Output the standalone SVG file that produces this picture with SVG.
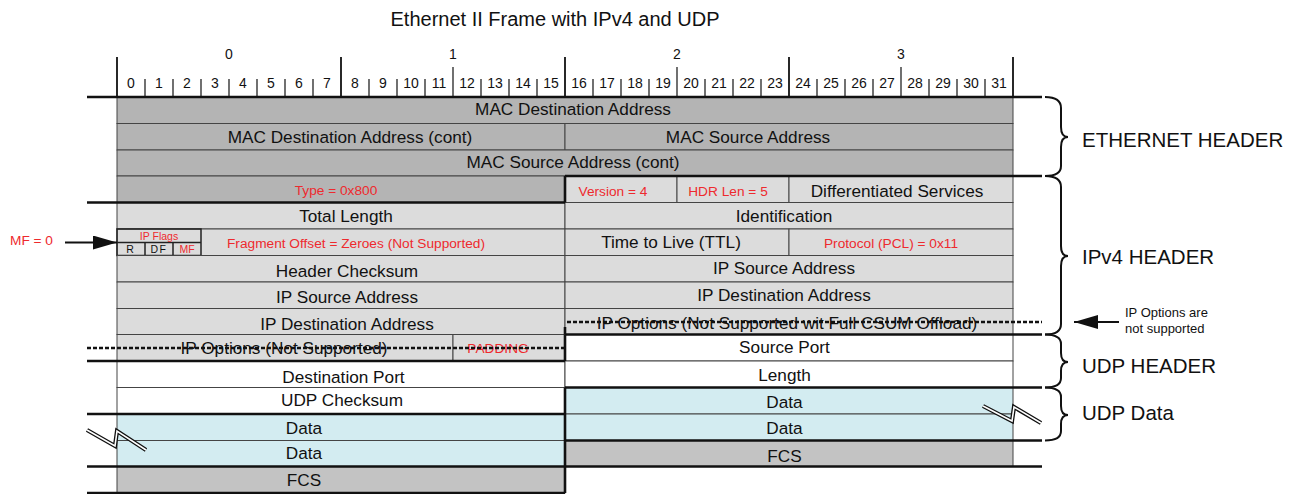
<svg xmlns="http://www.w3.org/2000/svg" width="1297" height="494" viewBox="0 0 1297 494">
<style>
text{font-family:"Liberation Sans",Arial,sans-serif;fill:#111}
.t{font-size:17.2px;text-anchor:middle}
.r{font-size:13.7px;text-anchor:middle;fill:#ee2a2e}
.s{font-size:10.5px;text-anchor:middle}
.bit{font-size:14px;text-anchor:middle}
.lbl{font-size:20.5px}
.eth{fill:#b4b4b4;stroke:#444;stroke-width:1}
.ip{fill:#dcdcdc;stroke:#444;stroke-width:1}
.wh{fill:#ffffff;stroke:#444;stroke-width:1}
.dt{fill:#d3ecf1;stroke:#444;stroke-width:1}
.fcs{fill:#c3c3c3;stroke:#444;stroke-width:1}
.thick{stroke:#111;stroke-width:2.6;fill:none}
.tick{stroke:#111;stroke-width:1.2}
.big{stroke:#111;stroke-width:1.8}
.dash{stroke:#111;stroke-width:2.3;stroke-dasharray:4 2;fill:none}
.brace{stroke:#111;stroke-width:2;fill:none}
.flag{fill:none;stroke:#222;stroke-width:1.5}
</style>
<defs>
<marker id="ah" viewBox="0 0 24 14" refX="24" refY="7" markerWidth="24" markerHeight="14" markerUnits="userSpaceOnUse" orient="auto">
<path d="M0,0 L24,7 L0,14 Z" fill="#111"/>
</marker>
</defs>

<text x="555" y="26" style="font-size:20px;text-anchor:middle">Ethernet II Frame with IPv4 and UDP</text>

<g id="ruler">
<line class="big" x1="117" y1="57" x2="117" y2="97"/>
<line class="big" x1="341" y1="57" x2="341" y2="97"/>
<line class="big" x1="565" y1="57" x2="565" y2="97"/>
<line class="big" x1="789" y1="57" x2="789" y2="97"/>
<line class="big" x1="1013" y1="57" x2="1013" y2="97"/>
<g class="tick">
<line x1="145" y1="79" x2="145" y2="96"/><line x1="173" y1="79" x2="173" y2="96"/><line x1="201" y1="79" x2="201" y2="96"/><line x1="229" y1="79" x2="229" y2="96"/><line x1="257" y1="79" x2="257" y2="96"/><line x1="285" y1="79" x2="285" y2="96"/><line x1="313" y1="79" x2="313" y2="96"/>
<line x1="369" y1="79" x2="369" y2="96"/><line x1="397" y1="79" x2="397" y2="96"/><line x1="425" y1="79" x2="425" y2="96"/><line x1="453" y1="67" x2="453" y2="96"/><line x1="481" y1="79" x2="481" y2="96"/><line x1="509" y1="79" x2="509" y2="96"/><line x1="537" y1="79" x2="537" y2="96"/>
<line x1="593" y1="79" x2="593" y2="96"/><line x1="621" y1="79" x2="621" y2="96"/><line x1="649" y1="79" x2="649" y2="96"/><line x1="677" y1="67" x2="677" y2="96"/><line x1="705" y1="79" x2="705" y2="96"/><line x1="733" y1="79" x2="733" y2="96"/><line x1="761" y1="79" x2="761" y2="96"/>
<line x1="817" y1="79" x2="817" y2="96"/><line x1="845" y1="79" x2="845" y2="96"/><line x1="873" y1="79" x2="873" y2="96"/><line x1="901" y1="67" x2="901" y2="96"/><line x1="929" y1="79" x2="929" y2="96"/><line x1="957" y1="79" x2="957" y2="96"/><line x1="985" y1="79" x2="985" y2="96"/>
</g>
<text class="bit" x="229" y="59">0</text><text class="bit" x="453" y="59">1</text><text class="bit" x="677" y="59">2</text><text class="bit" x="901" y="59">3</text>
<g class="bit">
<text class="bit" x="131" y="88">0</text><text class="bit" x="159" y="88">1</text><text class="bit" x="187" y="88">2</text><text class="bit" x="215" y="88">3</text><text class="bit" x="243" y="88">4</text><text class="bit" x="271" y="88">5</text><text class="bit" x="299" y="88">6</text><text class="bit" x="327" y="88">7</text>
<text class="bit" x="355" y="88">8</text><text class="bit" x="383" y="88">9</text><text class="bit" x="411" y="88">10</text><text class="bit" x="439" y="88">11</text><text class="bit" x="467" y="88">12</text><text class="bit" x="495" y="88">13</text><text class="bit" x="523" y="88">14</text><text class="bit" x="551" y="88">15</text>
<text class="bit" x="579" y="88">16</text><text class="bit" x="607" y="88">17</text><text class="bit" x="635" y="88">18</text><text class="bit" x="663" y="88">19</text><text class="bit" x="691" y="88">20</text><text class="bit" x="719" y="88">21</text><text class="bit" x="747" y="88">22</text><text class="bit" x="775" y="88">23</text>
<text class="bit" x="803" y="88">24</text><text class="bit" x="831" y="88">25</text><text class="bit" x="859" y="88">26</text><text class="bit" x="887" y="88">27</text><text class="bit" x="915" y="88">28</text><text class="bit" x="943" y="88">29</text><text class="bit" x="971" y="88">30</text><text class="bit" x="999" y="88">31</text>
</g>
</g>

<g id="mac-dst"><rect class="eth" x="117" y="97" width="896" height="26.5"/><text class="t" x="573" y="115.4">MAC Destination Address</text></g>
<g id="mac-dst-cont"><rect class="eth" x="117" y="123.5" width="448" height="26.5"/><text class="t" x="350" y="142.8">MAC Destination Address (cont)</text></g>
<g id="mac-src"><rect class="eth" x="565" y="123.5" width="448" height="26.5"/><text class="t" x="748" y="142.8">MAC Source Address</text></g>
<g id="mac-src-cont"><rect class="eth" x="117" y="150" width="896" height="26"/><text class="t" x="573" y="168.4">MAC Source Address (cont)</text></g>
<g id="type"><rect class="eth" x="117" y="176" width="448" height="26.5"/><text class="r" x="336" y="194.5">Type = 0x800</text></g>
<g id="version"><rect class="ip" x="565" y="176" width="112" height="26.5"/><text class="r" x="613" y="195.5">Version = 4</text></g>
<g id="hdr-len"><rect class="ip" x="677" y="176" width="112" height="26.5"/><text class="r" x="728" y="195.5">HDR Len = 5</text></g>
<g id="dsf"><rect class="ip" x="789" y="176" width="224" height="26.5"/><text class="t" x="897" y="196.5">Differentiated Services</text></g>
<g id="total-length"><rect class="ip" x="117" y="202.5" width="448" height="26.5"/><text class="t" x="346" y="222">Total Length</text></g>
<g id="identification"><rect class="ip" x="565" y="202.5" width="448" height="26.5"/><text class="t" x="784" y="222">Identification</text></g>
<g id="frag"><rect class="ip" x="117" y="229" width="448" height="26.5"/><text class="r" x="356" y="247.5">Fragment Offset = Zeroes (Not Supported)</text></g>
<g id="ip-flags">
<rect class="flag" x="117" y="229" width="84" height="26.5"/>
<line class="flag" x1="117" y1="242.5" x2="201" y2="242.5"/>
<line class="flag" x1="145" y1="242.5" x2="145" y2="255.5"/>
<line class="flag" x1="173" y1="242.5" x2="173" y2="255.5"/>
<text class="s" x="159" y="239.5" style="fill:#ee2a2e">IP Flags</text>
<text class="s" x="130" y="252.5">R</text>
<text class="s" x="159" y="252.5" style="letter-spacing:1.5px">DF</text>
<text class="s" x="187" y="252.5" style="fill:#ee2a2e">MF</text>
</g>
<g id="ttl"><rect class="ip" x="565" y="229" width="224" height="26.5"/><text class="t" x="671" y="247.8">Time to Live (TTL)</text></g>
<g id="protocol"><rect class="ip" x="789" y="229" width="224" height="26.5"/><text class="r" x="891" y="248">Protocol (PCL) = 0x11</text></g>
<g id="hdr-checksum"><rect class="ip" x="117" y="255.5" width="448" height="26.5"/><text class="t" x="347" y="277">Header Checksum</text></g>
<g id="ip-src-r"><rect class="ip" x="565" y="255.5" width="448" height="26.5"/><text class="t" x="784" y="274.4">IP Source Address</text></g>
<g id="ip-src-l"><rect class="ip" x="117" y="282" width="448" height="26.5"/><text class="t" x="347" y="302.5">IP Source Address</text></g>
<g id="ip-dst-r"><rect class="ip" x="565" y="282" width="448" height="26.5"/><text class="t" x="784" y="301.4">IP Destination Address</text></g>
<g id="ip-dst-l"><rect class="ip" x="117" y="308.5" width="448" height="26"/><text class="t" x="347" y="330">IP Destination Address</text></g>
<g id="ip-opt-r"><rect class="ip" x="565" y="308.5" width="448" height="26"/><text class="t" x="787" y="328.8">IP Options (Not Supported wit Full CSUM Offload)</text></g>
<g id="ip-opt-l"><rect class="ip" x="117" y="334.5" width="336" height="26.5"/><text class="t" x="284" y="353.5">IP Options (Not Supported)</text></g>
<g id="padding"><rect class="ip" x="453" y="334.5" width="112" height="26.5"/><text class="r" x="498" y="352.8">PADDING</text></g>
<g id="src-port"><rect class="wh" x="565" y="334.5" width="448" height="26.5"/><text class="t" x="784.5" y="353.4">Source Port</text></g>
<g id="dst-port"><rect class="wh" x="117" y="361" width="448" height="26.5"/><text class="t" x="343.5" y="383">Destination Port</text></g>
<g id="length"><rect class="wh" x="565" y="361" width="448" height="26.5"/><text class="t" x="784.5" y="381">Length</text></g>
<g id="udp-checksum"><rect class="wh" x="117" y="387.5" width="448" height="26.5"/><text class="t" x="342" y="406">UDP Checksum</text></g>
<g id="data-r1"><rect class="dt" x="565" y="387.5" width="448" height="26.5"/><text class="t" x="784.5" y="408.4">Data</text></g>
<g id="data-l1"><rect class="dt" x="117" y="414" width="448" height="26.5"/><text class="t" x="304" y="434">Data</text></g>
<g id="data-r2"><rect class="dt" x="565" y="414" width="448" height="26.5"/><text class="t" x="784.5" y="434.4">Data</text></g>
<g id="data-l2"><rect class="dt" x="117" y="440.5" width="448" height="26"/><text class="t" x="304" y="459">Data</text></g>
<g id="fcs-r"><rect class="fcs" x="565" y="440.5" width="448" height="26"/><text class="t" x="784.5" y="461.8">FCS</text></g>
<g id="fcs-l"><rect class="fcs" x="117" y="466.5" width="448" height="26.5"/><text class="t" x="304" y="486">FCS</text></g>

<g id="boundaries">
<line class="thick" x1="87" y1="97" x2="1042" y2="97"/>
<line class="thick" x1="565" y1="176" x2="1042" y2="176"/>
<line class="thick" x1="87" y1="202.5" x2="565" y2="202.5"/>
<line class="thick" x1="565" y1="176" x2="565" y2="202.5"/>
<line class="thick" x1="565" y1="334.5" x2="1042" y2="334.5"/>
<line class="thick" x1="87" y1="361" x2="565" y2="361"/>
<line class="thick" x1="565" y1="334.5" x2="565" y2="361"/>
<line class="thick" x1="565" y1="327" x2="565" y2="334.5"/>
<line class="thick" x1="565" y1="387.5" x2="1042" y2="387.5"/>
<line class="thick" x1="87" y1="414" x2="565" y2="414"/>
<line class="thick" x1="565" y1="440.5" x2="1042" y2="440.5"/>
<line class="thick" x1="87" y1="466.5" x2="1042" y2="466.5"/>
<line class="thick" x1="87" y1="493" x2="565" y2="493"/>
<line class="thick" x1="565" y1="387.5" x2="565" y2="493"/>
</g>

<g id="not-supported-lines">
<line class="dash" x1="87" y1="348" x2="565" y2="348"/>
<line class="dash" x1="567" y1="322" x2="1042" y2="322"/>
</g>

<g id="breaks">
<path d="M87,430 L115,446 L117,431 L146,450" stroke="#111" stroke-width="4.2" fill="none"/>
<path d="M87,430 L115,446 L117,431 L146,450" stroke="#fff" stroke-width="1.6" fill="none"/>
<path d="M983,406 L1012,421 L1014,407 L1041,423" stroke="#111" stroke-width="4.2" fill="none"/>
<path d="M983,406 L1012,421 L1014,407 L1041,423" stroke="#fff" stroke-width="1.6" fill="none"/>
</g>

<g id="braces">
<path class="brace" d="M1045,97 Q1061,97 1061,108 L1061,127 Q1061,137 1068,137 Q1061,137 1061,147 L1061,166 Q1061,176 1045,176"/>
<path class="brace" d="M1045,176 Q1061,176 1061,187 L1061,246 Q1061,256 1068,256 Q1061,256 1061,266 L1061,324 Q1061,334.5 1045,334.5"/>
<path class="brace" d="M1045,334.5 Q1061,334.5 1061,344 L1061,353 Q1061,362 1068,362 Q1061,362 1061,371 L1061,378 Q1061,387.5 1045,387.5"/>
<path class="brace" d="M1045,387.5 Q1061,387.5 1061,397 L1061,406 Q1061,415 1068,415 Q1061,415 1061,424 L1061,431 Q1061,440.5 1045,440.5"/>
</g>
<g id="section-labels">
<text class="lbl" x="1082" y="146.5">ETHERNET HEADER</text>
<text class="lbl" x="1082" y="264">IPv4 HEADER</text>
<text class="lbl" x="1082" y="373">UDP HEADER</text>
<text class="lbl" x="1082" y="420">UDP Data</text>
</g>

<g id="connectors">
<line x1="65" y1="242.5" x2="117" y2="242.5" stroke="#111" stroke-width="1.8" marker-end="url(#ah)"/>
<line x1="1119" y1="322" x2="1074" y2="322" stroke="#111" stroke-width="1.8" marker-end="url(#ah)"/>
</g>
<g id="notes">
<text x="10" y="245" style="font-size:13.7px;fill:#ee2a2e">MF = 0</text>
<text x="1125" y="317" style="font-size:13px">IP Options are</text>
<text x="1125" y="333" style="font-size:13px">not supported</text>
</g>
</svg>
